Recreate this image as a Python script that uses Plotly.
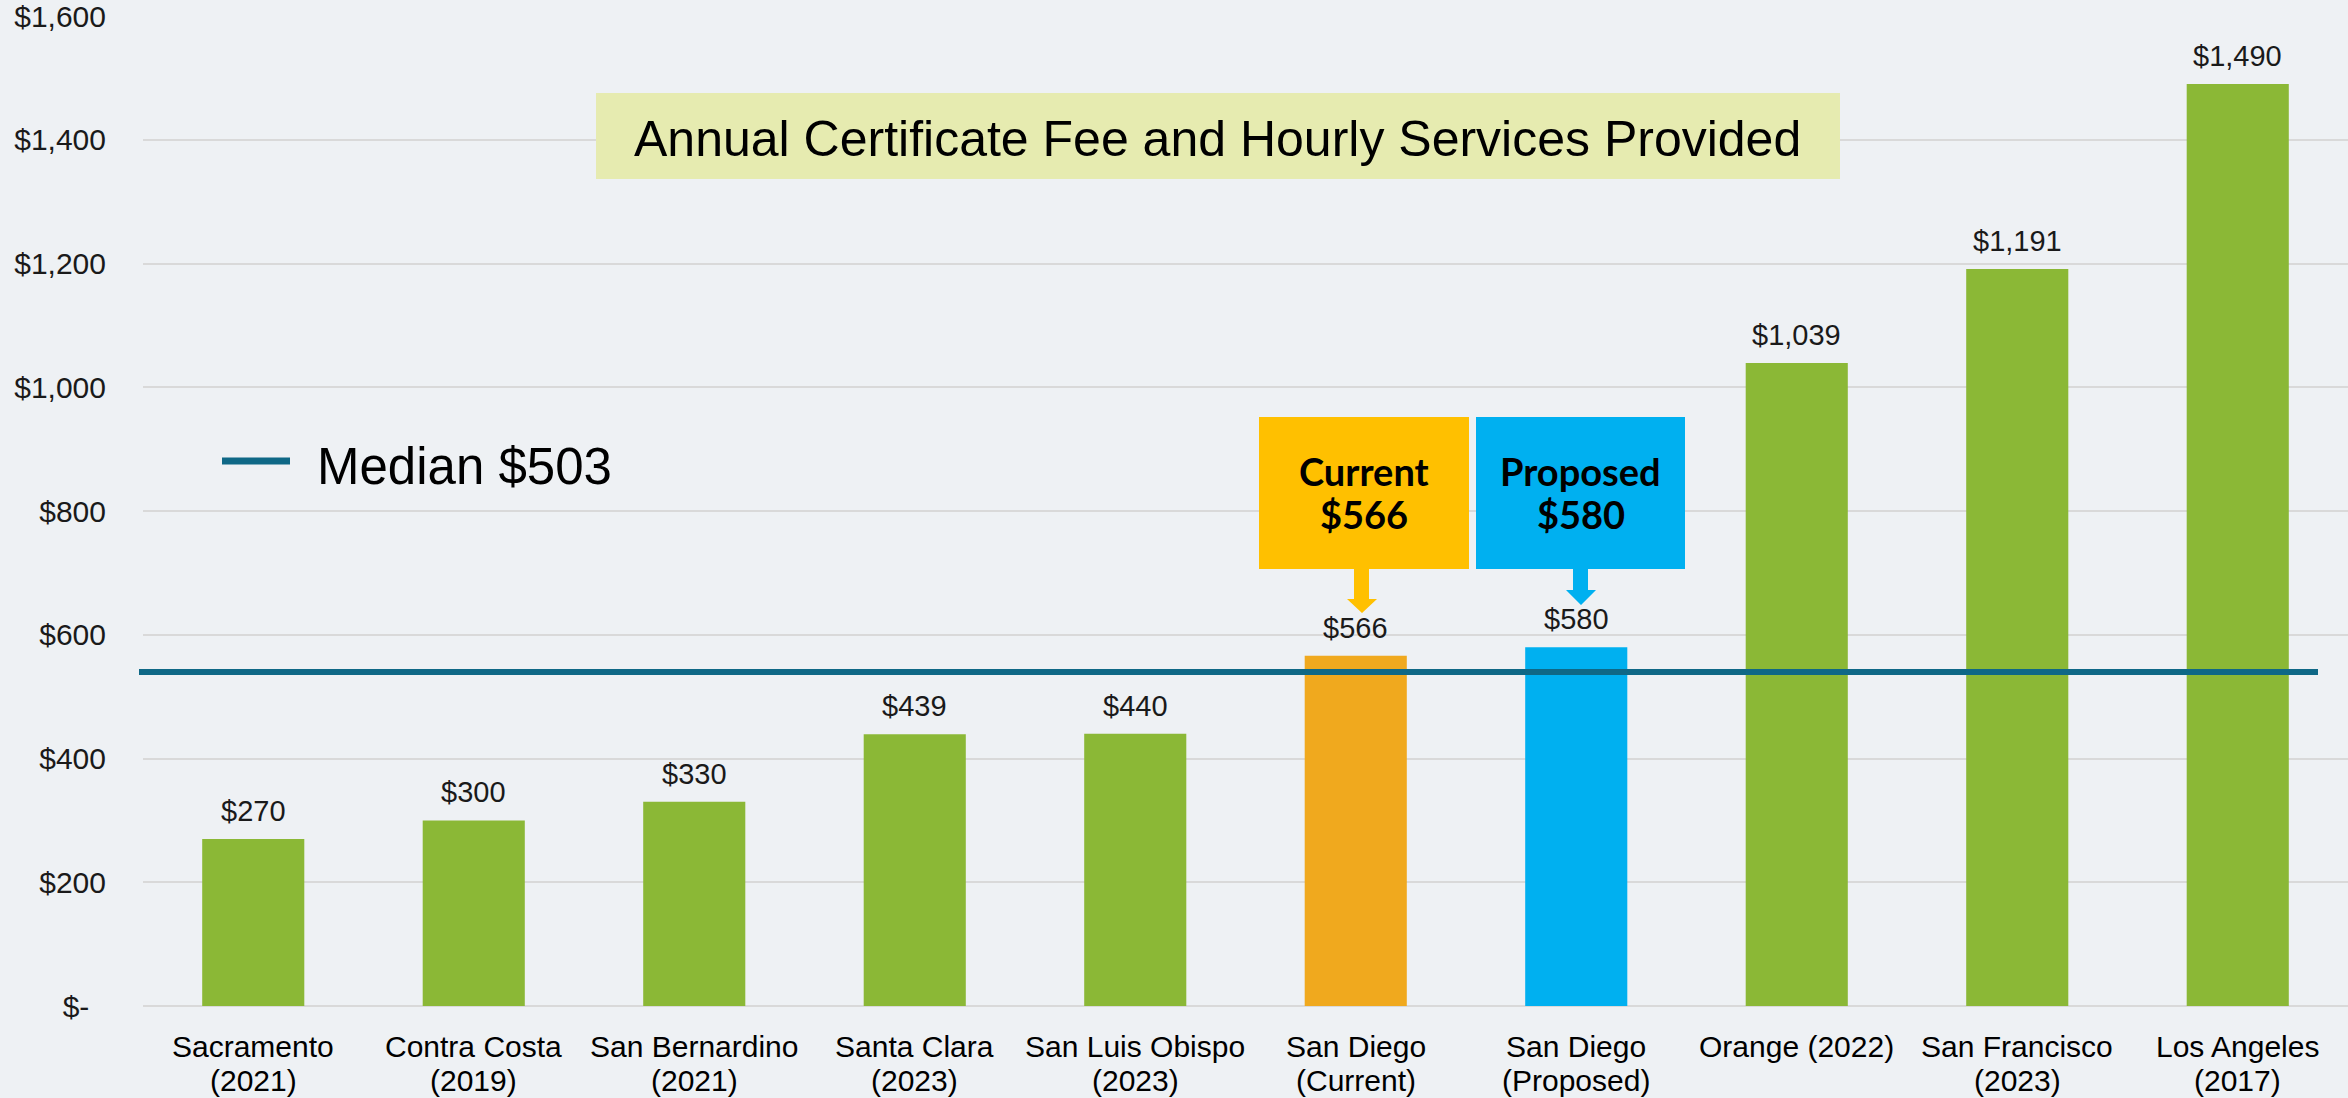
import plotly.graph_objects as go

# ---------------- data ----------------
categories = [
    "Sacramento<br>(2021)", "Contra Costa<br>(2019)", "San Bernardino<br>(2021)",
    "Santa Clara<br>(2023)", "San Luis Obispo<br>(2023)", "San Diego<br>(Current)",
    "San Diego<br>(Proposed)", "Orange (2022)", "San Francisco<br>(2023)",
    "Los Angeles<br>(2017)",
]
fees = [270, 300, 330, 439, 440, 566, 580, 1039, 1191, 1490]
bar_colors = ["#8BB836"] * 5 + ["#F0A91E", "#00B0F0"] + ["#8BB836"] * 3
median_line_value = 540
median_label = "Median $503"
current_fee = 566
proposed_fee = 580
y_tickvals = [0, 200, 400, 600, 800, 1000, 1200, 1400, 1600]
y_ticktext = ["$-\u00a0\u00a0", "$200", "$400", "$600", "$800", "$1,000", "$1,200", "$1,400", "$1,600"]
title_text = "Annual Certificate Fee and Hourly Services Provided"

# ---------------- layout geometry ----------------
W, H = 2348, 1098
PLOT_L, PLOT_R, PLOT_T, PLOT_B = 143, 2348, 16, 1006
ML, MT, MB, MR = PLOT_L, PLOT_T, H - PLOT_B, W - PLOT_R
PW, PH = PLOT_R - PLOT_L, PLOT_B - PLOT_T


def px(x):
    return (x - PLOT_L) / PW


def py(y):
    return (PLOT_B - y) / PH


BG = "#EEF1F4"
FONT = "Liberation Sans, Arial, sans-serif"

fig = go.Figure()
fig.add_trace(go.Bar(
    x=categories, y=fees, marker=dict(color=bar_colors, line=dict(width=0)),
    showlegend=False, hoverinfo="y",
))

annotations = []
# data labels
for c, v in zip(categories, fees):
    annotations.append(dict(
        x=c, y=v, xref="x", yref="y", text="${:,}".format(v), showarrow=False,
        yanchor="bottom", yshift=10, font=dict(family=FONT, size=29, color="#1a1a1a"),
    ))
# category labels (one annotation per line)
for c in categories:
    for i, line in enumerate(c.split("<br>")):
        annotations.append(dict(
            x=c, y=py(1046 + 34 * i), xref="x", yref="paper", text=line, showarrow=False,
            xanchor="center", yanchor="middle", font=dict(family=FONT, size=30, color="#000000"),
        ))

shapes = []
# median line
shapes.append(dict(type="line", xref="paper", yref="y", x0=px(139), x1=px(2318),
                   y0=median_line_value, y1=median_line_value,
                   line=dict(color="#0F6886", width=6), layer="above"))
# legend sample line
shapes.append(dict(type="line", xref="paper", yref="paper", x0=px(222), x1=px(290),
                   y0=py(461), y1=py(461), line=dict(color="#0F6886", width=7)))
annotations.append(dict(x=px(315), y=py(466), xref="paper", yref="paper", text=median_label,
                        showarrow=False, xanchor="left", yanchor="middle",
                        font=dict(family=FONT, size=51, color="#000000")))

# title box
shapes.append(dict(type="rect", xref="paper", yref="paper", x0=px(596), x1=px(1840),
                   y0=py(179), y1=py(93), fillcolor="#E6EBB0", line=dict(width=0)))
annotations.append(dict(x=px(1217), y=py(139), xref="paper", yref="paper", text=title_text,
                        showarrow=False, xanchor="center", yanchor="middle",
                        font=dict(family=FONT, size=50, color="#000000")))


# callout boxes + arrows
def callout(x0, x1, y0, y1, color, lines, stem, head, head_y, tip_y):
    shapes.append(dict(type="rect", xref="paper", yref="paper", x0=px(x0), x1=px(x1),
                       y0=py(y1), y1=py(y0), fillcolor=color, line=dict(width=0)))
    sx0, sx1 = stem
    hx0, hx1 = head
    tipx = (hx0 + hx1) / 2
    path = "M {a},{b} L {c},{b} L {c},{d} L {e},{d} L {f},{g} L {h},{d} L {a},{d} Z".format(
        a=px(sx0), b=py(y1 - 1), c=px(sx1), d=py(head_y), e=px(hx1), f=px(tipx), g=py(tip_y),
        h=px(hx0))
    shapes.append(dict(type="path", xref="paper", yref="paper", path=path,
                       fillcolor=color, line=dict(width=0)))
    for i, line in enumerate(lines):
        annotations.append(dict(x=px((x0 + x1) / 2), y=py(471 + 43 * i), xref="paper",
                                yref="paper", text="<b>" + line + "</b>", showarrow=False,
                                xanchor="center", yanchor="middle",
                                font=dict(family="Lato, sans-serif", size=38, color="#000000")))


callout(1259, 1469, 417, 569, "#FFC000", ["Current", "${}".format(current_fee)],
        (1354, 1369), (1347, 1377), 599, 613)
callout(1476, 1685, 417, 569, "#00B0F0", ["Proposed", "${}".format(proposed_fee)],
        (1573, 1588), (1566, 1596), 590, 605)

fig.update_layout(
    width=W, height=H, margin=dict(l=ML, r=MR, t=MT, b=MB, autoexpand=False),
    paper_bgcolor=BG, plot_bgcolor=BG, bargap=0.537,
    shapes=shapes, annotations=annotations,
    font=dict(family=FONT, color="#1a1a1a"),
    xaxis=dict(showgrid=False, showline=False, zeroline=False, ticks="",
               showticklabels=False, range=[-0.5, 9.5], automargin=False),
    yaxis=dict(range=[0, 1600], tickvals=y_tickvals, ticktext=y_ticktext,
               showgrid=True, gridcolor="#D9D9D9", gridwidth=2,
               zeroline=True, zerolinecolor="#D9D9D9", zerolinewidth=2,
               showline=False, ticks="", ticklabelstandoff=36, ticklabeloverflow="allow",
               automargin=False, tickfont=dict(size=30, color="#1a1a1a")),
)

fig.write_html(
    "out.html",
    config={"displayModeBar": False},
    post_script="document.body.style.margin='0px';document.body.style.background='" + BG + "';",
)
